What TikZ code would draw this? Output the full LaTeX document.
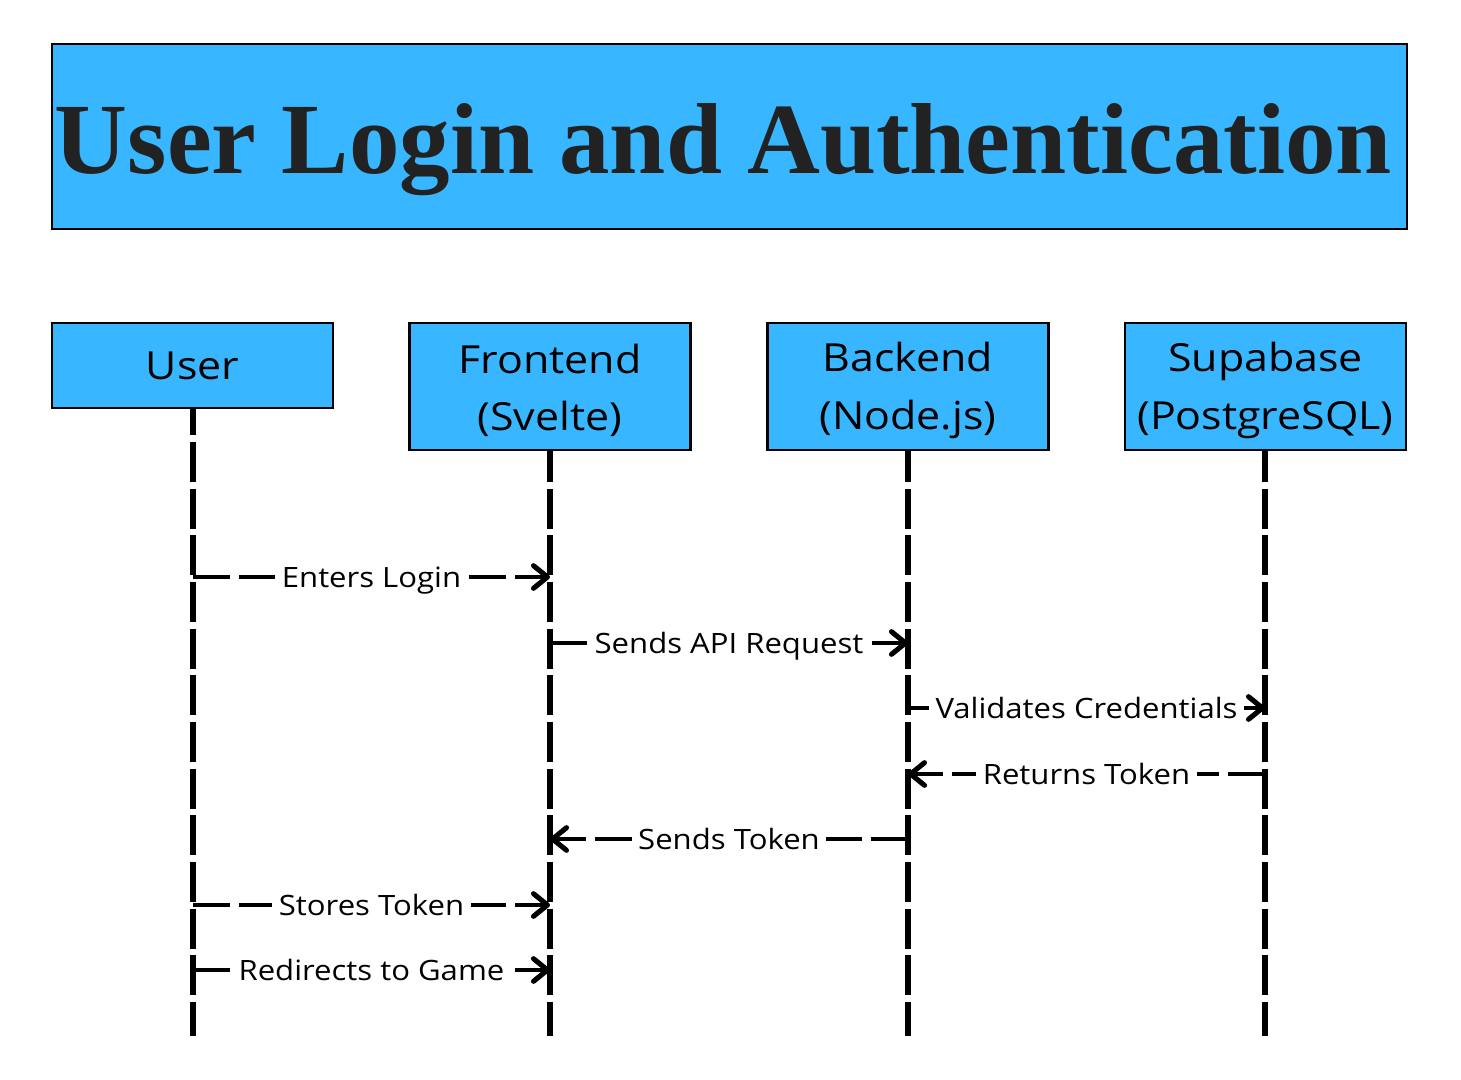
\documentclass[tikz,border=0pt]{standalone}
\usepackage{fontspec}
\usepackage{graphicx}
\setmainfont{Open Sans}
\newfontfamily\titlefont{Liberation Serif}
\usetikzlibrary{arrows.meta}
\definecolor{boxblue}{HTML}{38B6FF}
\definecolor{titleink}{HTML}{222222}
\newcommand{\Wide}[1]{\scalebox{1.11}[1]{#1}}
\begin{document}
\begin{tikzpicture}[x=0.75pt,y=-0.75pt,
  actorbox/.style={draw=black, line width=1.9pt, fill=boxblue, minimum width=281*0.75pt,
     inner sep=0pt, align=center, font=\fontsize{29}{43}\selectfont},
  lifeline/.style={line width=4.6pt, dash pattern=on 30pt off 5pt},
  msg/.style={line width=3.2pt, dash pattern=on 27.75pt off 6.75pt,
     -{Straight Barb[length=10.5pt,width=17pt,line width=3.8pt,round]}},
  lbl/.style={fill=white, inner xsep=5pt, inner ysep=3pt, text height=15pt, text depth=0pt,
     font=\fontsize{21}{24}\selectfont}]
\useasboundingbox (0,0) rectangle (1461,1080);
\fill[white] (0,0) rectangle (1461,1080);

% title
\node[draw=black, line width=1.5pt, fill=boxblue, minimum width=1355*0.75pt, minimum height=185*0.75pt,
  inner sep=0pt] (titlebox) at (729.5,136.5) {};
\node[anchor=base, text=titleink, inner sep=0pt] (titletext) at (723.5,174)
  {\resizebox{1002.75pt}{!}{\titlefont\bfseries User Login and Authentication}};

% lifelines
\coordinate (uS) at (193,395.3);  \coordinate (uE) at (193,1036);
\coordinate (fS) at (550,395.3);  \coordinate (fE) at (550,1036);
\coordinate (bS) at (908,395.3);  \coordinate (bE) at (908,1036);
\coordinate (sS) at (1265,395.3); \coordinate (sE) at (1265,1036);
\draw[lifeline] (uS) -- (uE);
\draw[lifeline] (fS) -- (fE);
\draw[lifeline] (bS) -- (bE);
\draw[lifeline] (sS) -- (sE);

% actor boxes
\node[actorbox, minimum height=85*0.75pt] (user) at (192.5,365.5) {};
\node[actorbox, minimum height=127*0.75pt] (front) at (550,386.5) {};
\node[actorbox, minimum height=127*0.75pt] (back) at (908,386.5) {};
\node[actorbox, minimum height=127*0.75pt] (supa) at (1265.5,386.5) {};
\node[align=center, font=\fontsize{29}{43}\selectfont] (userT) at (user.center) {\Wide{User}};
\node[align=center, font=\fontsize{29}{43}\selectfont] (frontT) at ([yshift=-3pt]front.center) {\Wide{Frontend}\\\Wide{(Svelte)}};
\node[align=center, font=\fontsize{29}{43}\selectfont] (backT) at ([yshift=-3pt]back.center) {\Wide{Backend}\\\Wide{(Node.js)}};
\node[align=center, font=\fontsize{29}{43}\selectfont] (supaT) at ([yshift=-3pt]supa.center) {\Wide{Supabase}\\\Wide{(PostgreSQL)}};

% messages
\draw[msg] (uS |- 0,577) -- node[lbl]{\Wide{Enters Login}} (fS |- 0,577);
\draw[msg] (fS |- 0,643) -- node[lbl]{\Wide{Sends API Request}} (bS |- 0,643);
\draw[msg] (bS |- 0,708) -- node[lbl]{\Wide{Validates Credentials}} (sS |- 0,708);
\draw[msg] (sS |- 0,774) -- node[lbl]{\Wide{Returns Token}} (bS |- 0,774);
\draw[msg] (bS |- 0,839) -- node[lbl]{\Wide{Sends Token}} (fS |- 0,839);
\draw[msg] (uS |- 0,905) -- node[lbl]{\Wide{Stores Token}} (fS |- 0,905);
\draw[msg] (uS |- 0,970) -- node[lbl]{\Wide{Redirects to Game}} (fS |- 0,970);
\end{tikzpicture}
\end{document}
